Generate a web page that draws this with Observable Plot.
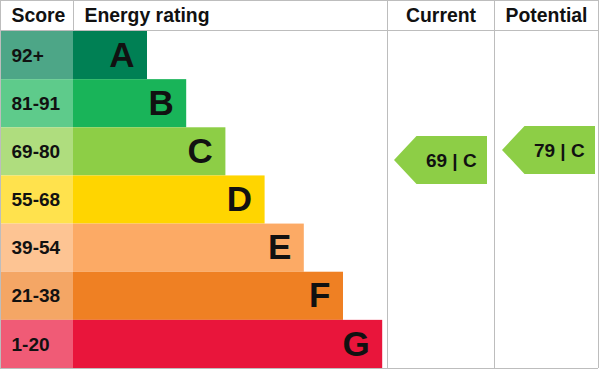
<!DOCTYPE html>
<html>
<head>
<meta charset="utf-8">
<script src="https://cdn.jsdelivr.net/npm/d3@7"></script>
<script src="https://cdn.jsdelivr.net/npm/@observablehq/plot@0.6"></script>
<style>
  html, body { margin: 0; padding: 0; background: #fff; }
  #chart svg { display: block; }
</style>
</head>
<body>
<div id="chart"></div>
<script>
// ---- data ----
const ratings = ["A", "B", "C", "D", "E", "F", "G"];
const scoreBands = ["92+", "81-91", "69-80", "55-68", "39-54", "21-38", "1-20"];
const bandMins = [92, 81, 69, 55, 39, 21, 1];
const bandColors = ["#008054", "#19b459", "#8dce46", "#ffd500", "#fcaa65", "#ef8023", "#e9153b"];
const headers = ["Score", "Energy rating", "Current", "Potential"];
const assessments = ["Current", "Potential"];
const assessScores = [69, 79];

// ---- layout ----
const W = 600, H = 370;
const rowsTop = 31, rowsBottom = 368;
const rowH = (rowsBottom - rowsTop) / ratings.length;
const hdr = rowsTop / rowH;
const px = (p) => (p - rowsTop) / rowH; // pixel row -> y units
const colEdges = [0, 73, 387, 494, 598];
const font = "'Liberation Sans', Arial, Helvetica, sans-serif";
const light = (c) => d3.interpolateRgb(c, "#ffffff")(0.3);

const rows = ratings.map((r, i) => ({
  i, rating: r, band: scoreBands[i], color: bandColors[i],
  end: 147 + 39.2 * i
}));

const headerData = headers.map((h, i) => ({
  text: h,
  left: i < 2,
  x: i < 2 ? colEdges[i] + 11 : (colEdges[i] + colEdges[i + 1]) / 2
}));

const nudges = [0.18, -0.03];
const arrows = assessments.map((who, j) => {
  const score = assessScores[j];
  const k = bandMins.findIndex(m => score >= m);
  const left = colEdges[2 + j];
  const tip = left + 7 + j * 1;
  const yc = k + 0.5 + nudges[j];
  return { who, score, rating: ratings[k], color: bandColors[k], tip, body: tip + 22.5, right: tip + 93, yc };
});
const arrowPts = arrows.flatMap(a => [
  { who: a.who, x: a.tip, y1: a.yc, y2: a.yc, fill: a.color },
  { who: a.who, x: a.body, y1: a.yc - 0.4985, y2: a.yc + 0.4985, fill: a.color },
  { who: a.who, x: a.right, y1: a.yc - 0.4985, y2: a.yc + 0.4985, fill: a.color }
]);

const grid = "#bdbdbd";
const textStyle = { fontWeight: "bold", fontFamily: font, fill: "#111" };

const chart = Plot.plot({
  width: W,
  height: H,
  marginTop: 0,
  marginLeft: 0,
  marginRight: 0,
  marginBottom: H - rowsBottom,
  x: { domain: [0, W], range: [0, W], axis: null },
  y: { domain: [ratings.length, -hdr], axis: null },
  color: { type: "identity" },
  style: { background: "#fff" },
  marks: [
    // score cells
    Plot.rect(rows, { x1: 1, x2: colEdges[1], y1: d => d.i, y2: d => d.i + 1, fill: d => light(d.color) }),
    // energy bars
    Plot.rect(rows, { x1: colEdges[1], x2: d => d.end, y1: d => d.i, y2: d => d.i + 1, fill: d => d.color }),
    // score labels
    Plot.text(rows, { x: 11, y: d => d.i + 0.5, text: "band", textAnchor: "start", fontSize: 19, ...textStyle }),
    // rating letters
    Plot.text(rows, { x: d => d.end, y: d => d.i + 0.5, text: "rating", textAnchor: "end", dx: -13, fontSize: 35, ...textStyle }),
    // grid lines
    Plot.ruleY([-hdr, px(30), ratings.length], { x1: 0, x2: colEdges[4], stroke: grid, strokeWidth: 1 }),
    Plot.ruleX([colEdges[0], colEdges[2], colEdges[3], colEdges[4]], { y1: -hdr, y2: ratings.length, stroke: grid, strokeWidth: 1 }),
    Plot.ruleX([colEdges[1]], { y1: -hdr, y2: px(30), stroke: grid, strokeWidth: 1 }),
    // headers
    Plot.text(headerData.filter(d => d.left), { x: "x", y: px(15.5), text: "text", textAnchor: "start", fontSize: 19.4, ...textStyle }),
    Plot.text(headerData.filter(d => !d.left), { x: "x", y: px(15.5), text: "text", textAnchor: "middle", fontSize: 19.4, ...textStyle }),
    // arrows
    Plot.areaY(arrowPts, { x: "x", y1: "y1", y2: "y2", z: "who", fill: "fill", curve: "linear" }),
    Plot.text(arrows, { x: d => (d.body + d.right) / 2 - 1, y: "yc", text: d => `${d.score} | ${d.rating}`, fontSize: 19, ...textStyle })
  ]
});

document.getElementById("chart").appendChild(chart);
</script>
</body>
</html>
